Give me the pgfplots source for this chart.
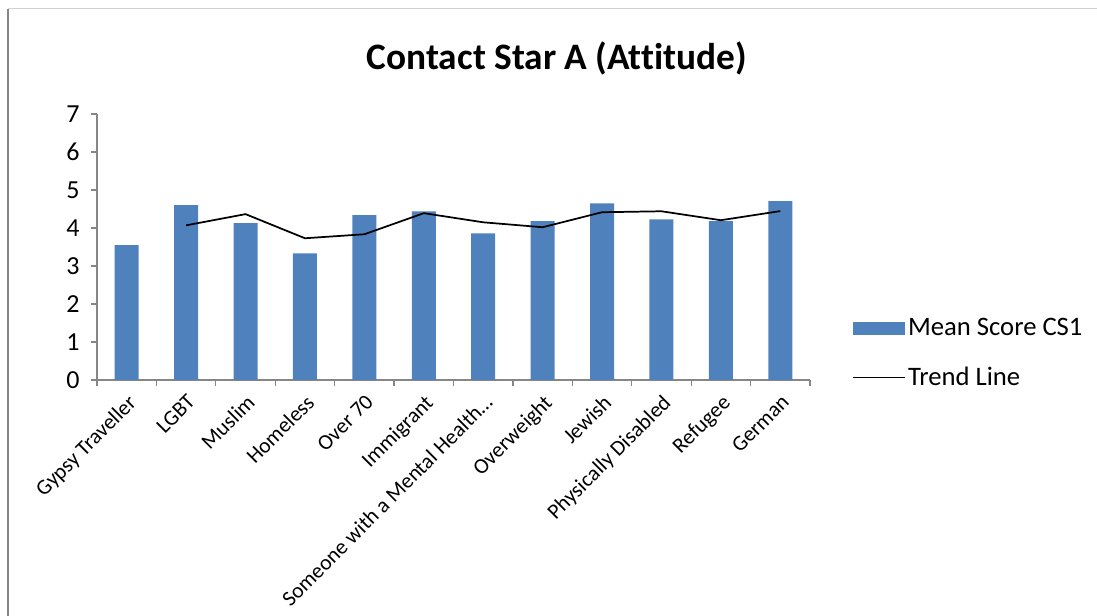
\documentclass[border=0pt]{standalone}
\usepackage{pgfplots}
\pgfplotsset{compat=1.18}
\usepackage{fontspec}
\setmainfont{Carlito}[Ligatures={NoCommon}]
\definecolor{barblue}{RGB}{79,129,189}
\definecolor{axgray}{RGB}{134,134,134}
\begin{document}
\begin{tikzpicture}
\useasboundingbox (0,0) rectangle (822.75pt,462pt);
\draw[axgray, line width=1.5pt] (6pt,0) -- (6pt,455.25pt);
\draw[black!18, line width=0.75pt] (6pt,455.25pt) -- (822.75pt,455.25pt);
\begin{axis}[
  at={(72.75pt,177pt)}, anchor=south west,
  scale only axis, width=534.75pt, height=199.5pt,
  xmin=-0.5, xmax=11.5, ymin=0, ymax=7,
  axis x line*=bottom, axis y line*=left,
  axis line style={axgray, line width=0.9pt},
  tick style={axgray, line width=0.9pt},
  tick align=outside, major tick length=4.5pt,
  /pgf/number format/assume math mode=true,
  ytick={0,...,7},
  yticklabel style={font=\fontsize{19.5}{22}\selectfont, xshift=-5pt},
  xtick={-0.5,0.5,...,11.5}, xticklabels={},
  extra x ticks={0,1,2,3,4,5,6,7,8,9,10,11},
  extra x tick labels={Gypsy Traveller,LGBT,Muslim,Homeless,Over 70,Immigrant,Someone with a Mental Health…,Overweight,Jewish,Physically Disabled,Refugee,German},
  extra x tick style={major tick length=0pt},
  xticklabel style={rotate=45, anchor=north east, font=\fontsize{16.2}{19}\selectfont, inner sep=2pt, yshift=-5pt, xshift=-5pt},
  title={Contact Star A (Attitude)},
  title style={at={(0.645,1.18)}, anchor=center, font=\bfseries\fontsize{28}{32}\selectfont},
  legend style={at={(1.053,0.1015)}, anchor=west, draw=none, font=\fontsize{20}{23}\selectfont, row sep=18pt},
  legend cell align=left,
  clip=false,
]
\addplot[ybar, bar width=18pt, fill=barblue, draw=none,
  legend image code/.code={\fill[barblue] (0pt,-4.9pt) rectangle (39pt,4.9pt);}]
  coordinates {(0,3.55) (1,4.60) (2,4.13) (3,3.33) (4,4.34) (5,4.44) (6,3.86) (7,4.18) (8,4.65) (9,4.23) (10,4.18) (11,4.71)};
\addlegendentry{Mean Score CS1}
\addplot[black, line width=1.3pt, mark=none,
  legend image code/.code={\draw[black, line width=1pt] (0pt,0pt) -- (39pt,0pt);}]
  coordinates {(1,4.07) (2,4.365) (3,3.73) (4,3.835) (5,4.39) (6,4.15) (7,4.02) (8,4.415) (9,4.44) (10,4.205) (11,4.445)};
\addlegendentry{Trend Line}
\end{axis}
\end{tikzpicture}
\end{document}
